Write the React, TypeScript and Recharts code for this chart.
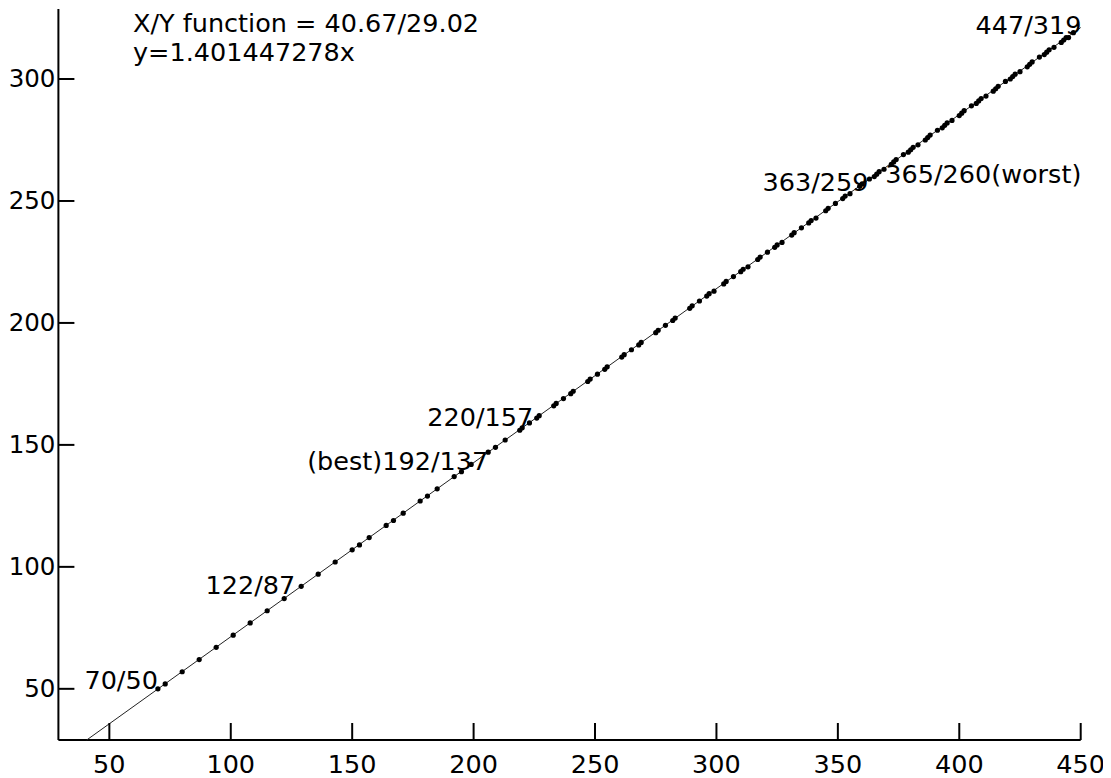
import React from "react";
import { ScatterChart, Scatter, XAxis, YAxis } from "recharts";

// X/Y pixel pairs (sorted by Y)
const pointX = [
  70, 73, 80, 87, 94, 101, 108, 115, 122, 129, 136, 143, 150, 153, 157, 164, 167, 171, 178, 181,
  185, 192, 195, 199, 206, 209, 213, 219, 220, 223, 226, 227, 233, 234, 237, 240, 241, 247, 248, 251,
  254, 255, 261, 262, 265, 268, 269, 275, 276, 279, 282, 283, 289, 290, 293, 296, 297, 299, 303, 304,
  307, 310, 311, 313, 317, 318, 321, 324, 325, 327, 331, 332, 335, 338, 339, 341, 345, 346, 349, 352,
  353, 355, 359, 360, 363, 365, 366, 367, 369, 372, 373, 374, 377, 379, 380, 381, 383, 386, 387, 388,
  391, 393, 394, 395, 397, 400, 401, 402, 405, 407, 408, 409, 411, 414, 415, 416, 419, 421, 422, 423,
  425, 428, 429, 430, 433, 435, 436, 437, 439, 442, 443, 444, 445, 447,
];
const pointY = [
  50, 52, 57, 62, 67, 72, 77, 82, 87, 92, 97, 102, 107, 109, 112, 117, 119, 122, 127, 129,
  132, 137, 139, 142, 147, 149, 152, 156, 157, 159, 161, 162, 166, 167, 169, 171, 172, 176, 177, 179,
  181, 182, 186, 187, 189, 191, 192, 196, 197, 199, 201, 202, 206, 207, 209, 211, 212, 213, 216, 217,
  219, 221, 222, 223, 226, 227, 229, 231, 232, 233, 236, 237, 239, 241, 242, 243, 246, 247, 249, 251,
  252, 253, 256, 257, 259, 260, 261, 262, 263, 265, 266, 267, 269, 270, 271, 272, 273, 275, 276, 277,
  279, 280, 281, 282, 283, 285, 286, 287, 289, 290, 291, 292, 293, 295, 296, 297, 299, 300, 301, 302,
  303, 305, 306, 307, 309, 310, 311, 312, 313, 315, 316, 317, 317, 319,
];

const labelText = ["70/50", "122/87", "(best)192/137", "220/157", "363/259", "365/260(worst)", "447/319"];
const labelX = [70, 122, 192, 220, 363, 365, 447];
const labelY = [50, 87, 137, 157, 259, 260, 319];

// fitted line y = x / 1.401447278
const fitX = [40.67, 450];
const fitY = [29.02, 321.1];

const xTicks = [50, 100, 150, 200, 250, 300, 350, 400, 450];
const yTicks = [50, 100, 150, 200, 250, 300];

const noteLines = ["X/Y function = 40.67/29.02", "y=1.401447278x"];

// where each label sits relative to its dot
const labelPlace = [
  { anchor: "end", dx: 0, dy: 0 },
  { anchor: "end", dx: 11, dy: -5 },
  { anchor: "end", dx: 34, dy: -7 },
  { anchor: "end", dx: 11, dy: -2 },
  { anchor: "end", dx: -1, dy: 12 },
  { anchor: "start", dx: 11, dy: 6 },
  { anchor: "end", dx: 8, dy: 1 },
];

const FONT = "'DejaVu Sans', sans-serif";
const FS = 25.5;

const points = pointX.map((x, i) => ({ x, y: pointY[i] }));
const labels = labelX.map((x, i) => ({ x, y: labelY[i], i }));
const fit = fitX.map((x, i) => ({ x, y: fitY[i] }));

function XTick(props: any) {
  const { x, y, payload } = props;
  return (
    <g>
      <line x1={x} y1={y} x2={x} y2={y - 17} stroke="#000" strokeWidth={2} />
      <text x={x} y={y + 33} textAnchor="middle" fontSize={FS} fontFamily={FONT} fill="#000">
        {payload.value}
      </text>
    </g>
  );
}

function YTick(props: any) {
  const { x, y, payload } = props;
  return (
    <g>
      <line x1={x} y1={y} x2={x + 16} y2={y} stroke="#000" strokeWidth={2} />
      <text x={x - 3} y={y + 8} textAnchor="end" fontSize={24.5} fontFamily={FONT} fill="#000">
        {payload.value}
      </text>
    </g>
  );
}

function Dot(props: any) {
  return <circle cx={props.cx} cy={props.cy} r={2.6} fill="#000" />;
}

function PointLabel(props: any) {
  const i = props.payload?.i ?? props.i ?? 0;
  const p = labelPlace[i];
  return (
    <text
      x={props.cx + p.dx}
      y={props.cy + p.dy}
      textAnchor={p.anchor}
      fontSize={FS}
      fontFamily={FONT}
      fill="#000"
    >
      {labelText[i]}
    </text>
  );
}

export default function App() {
  // pull the chart over the body margin so nothing on the left gets clipped
  return (
    <div style={{ position: "relative", width: 1108, height: 778, margin: "-8px 0 0 -8px" }}>
      <ScatterChart width={1108} height={778} margin={{ top: 9, right: 27.3, left: 8, bottom: 0 }}>
        <XAxis
          type="number"
          dataKey="x"
          domain={[29.02, 450]}
          ticks={xTicks}
          height={38}
          tickSize={0}
          tickMargin={0}
          tickLine={false}
          axisLine={{ stroke: "#000", strokeWidth: 2 }}
          tick={<XTick />}
        />
        <YAxis
          type="number"
          dataKey="y"
          domain={[29.02, 328.7]}
          ticks={yTicks}
          width={50.4}
          tickSize={0}
          tickMargin={0}
          tickLine={false}
          axisLine={{ stroke: "#000", strokeWidth: 2 }}
          tick={<YTick />}
        />
        <Scatter
          data={fit}
          line={{ stroke: "#222", strokeWidth: 1 }}
          shape={() => <g />}
          isAnimationActive={false}
        />
        <Scatter data={points} shape={<Dot />} isAnimationActive={false} />
        <Scatter data={labels} shape={<PointLabel />} isAnimationActive={false} />
      </ScatterChart>
      <svg
        width={1108}
        height={90}
        style={{ position: "absolute", left: 0, top: 0, pointerEvents: "none" }}
      >
        {noteLines.map((t, i) => (
          <text key={t} x={133} y={32 + i * 29} fontSize={FS} fontFamily={FONT} fill="#000">
            {t}
          </text>
        ))}
      </svg>
    </div>
  );
}
